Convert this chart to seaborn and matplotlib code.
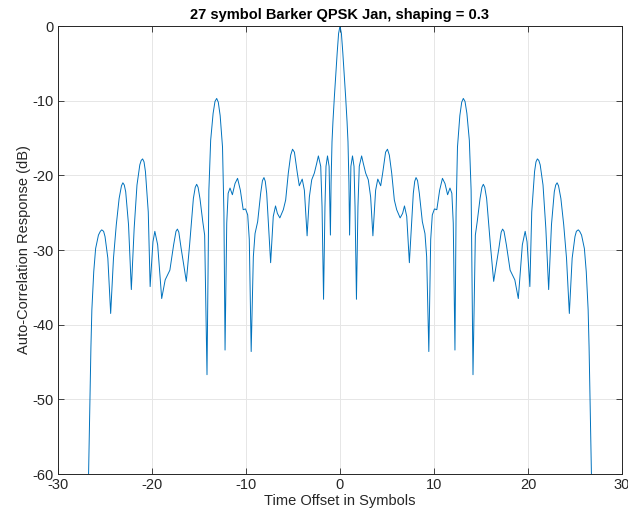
import matplotlib
matplotlib.use("Agg")
import matplotlib.pyplot as plt
import seaborn as sns
import pandas as pd

# Auto-correlation magnitude (dB) versus lag, in symbols
offset_symbols = [
    -26.9, -26.75, -26.6, -26.5, -26.4, -26.2, -26.0, -25.7, -25.5, -25.35, -25.15, -25.0,
    -24.7, -24.4, -24.1, -23.8, -23.5, -23.25, -23.1, -22.95, -22.8, -22.5, -22.2, -21.9,
    -21.6, -21.3, -21.15, -21.0, -20.85, -20.7, -20.4, -20.2, -19.9, -19.7, -19.4, -18.97,
    -18.6, -18.1, -17.7, -17.45, -17.3, -17.15, -16.9, -16.35, -16.0, -15.6, -15.4, -15.25, -15.1, -14.9,
    -14.6, -14.4, -14.15, -13.95, -13.76, -13.5, -13.3, -13.12, -12.95, -12.75,
    -12.5, -12.35, -12.23, -12.05, -11.9, -11.7, -11.45, -11.17, -10.9, -10.6,
    -10.3, -10.05, -9.82, -9.65, -9.45, -9.22, -9.04, -8.76, -8.44, -8.25, -8.09, -7.95,
    -7.8, -7.38, -7.1, -6.86, -6.66, -6.4, -6.03, -5.78, -5.5, -5.25,
    -5.05, -4.85, -4.54, -4.33, -4.02, -3.79, -3.5, -3.26, -3.01, -2.73,
    -2.48, -2.3, -2.05, -1.91, -1.75, -1.6, -1.49, -1.33, -1.16, -1.02,
    -0.95, -0.85, -0.75, -0.6, -0.45, -0.3, -0.15, 0.0,
    0.15, 0.3, 0.45, 0.6, 0.75, 0.85, 0.95,
    1.02, 1.16, 1.33, 1.49, 1.6, 1.75, 1.91, 2.05, 2.3, 2.48,
    2.73, 3.01, 3.26, 3.5, 3.79, 4.02, 4.33, 4.54, 4.85, 5.05,
    5.25, 5.5, 5.78, 6.03, 6.4, 6.66, 6.86, 7.1, 7.38, 7.8,
    7.95, 8.09, 8.25, 8.44, 8.76, 9.04, 9.22, 9.45, 9.65, 9.82, 10.05, 10.3,
    10.6, 10.9, 11.17, 11.45, 11.7, 11.9, 12.05, 12.23, 12.35, 12.5,
    12.75, 12.95, 13.12, 13.3, 13.5, 13.76, 13.95, 14.15, 14.4, 14.6,
    14.9, 15.1, 15.25, 15.4, 15.6, 16.0, 16.35, 16.9, 17.15, 17.3, 17.45, 17.7, 18.1, 18.6,
    18.97, 19.4, 19.7, 19.9, 20.2, 20.4, 20.7, 20.85, 21.0, 21.15, 21.3, 21.6,
    21.9, 22.2, 22.5, 22.8, 22.95, 23.1, 23.25, 23.5, 23.8, 24.1, 24.4, 24.7,
    25.0, 25.15, 25.35, 25.5, 25.7, 26.0, 26.2, 26.4, 26.5, 26.6, 26.75, 26.9,
]
response_db = [
    -75.0, -60.0, -50.0, -43.0, -38.0, -32.9, -29.8, -28.0, -27.5, -27.3, -27.5, -28.2,
    -31.1, -38.5, -31.1, -26.6, -23.1, -21.4, -21.0, -21.3, -22.2, -26.6, -35.3, -27.1,
    -21.3, -18.6, -18.0, -17.8, -18.2, -19.5, -24.9, -34.9, -28.9, -27.5, -29.3, -36.5,
    -34.0, -32.7, -29.3, -27.5, -27.2, -27.6, -29.8, -34.2, -29.3, -23.1, -21.6, -21.2, -21.6, -23.1,
    -26.2, -28.0, -46.7, -22.0, -15.3, -11.7, -10.1, -9.7, -10.2, -12.0,
    -16.2, -25.0, -43.4, -26.4, -22.4, -21.7, -22.6, -21.1, -20.4, -22.0,
    -24.6, -24.5, -25.3, -28.6, -43.6, -30.9, -27.8, -26.2, -22.4, -20.7, -20.3, -20.8,
    -22.4, -31.7, -25.5, -24.1, -25.1, -25.7, -24.6, -23.3, -19.7, -17.3,
    -16.5, -16.9, -19.7, -21.4, -20.5, -22.0, -28.1, -22.9, -20.6, -19.7,
    -18.4, -17.4, -18.8, -24.2, -36.6, -24.2, -18.8, -17.4, -18.8, -28.0,
    -21.0, -15.5, -12.8, -9.5, -6.5, -3.6, -1.0, 0.0,
    -1.0, -3.6, -6.5, -9.5, -12.8, -15.5, -21.0,
    -28.0, -18.8, -17.4, -18.8, -24.2, -36.6, -24.2, -18.8, -17.4, -18.4,
    -19.7, -20.6, -22.9, -28.1, -22.0, -20.5, -21.4, -19.7, -16.9, -16.5,
    -17.3, -19.7, -23.3, -24.6, -25.7, -25.1, -24.1, -25.5, -31.7, -22.4,
    -20.8, -20.3, -20.7, -22.4, -26.2, -27.8, -30.9, -43.6, -28.6, -25.3, -24.5, -24.6,
    -22.0, -20.4, -21.1, -22.6, -21.7, -22.4, -26.4, -43.4, -25.0, -16.2,
    -12.0, -10.2, -9.7, -10.1, -11.7, -15.3, -22.0, -46.7, -28.0, -26.2,
    -23.1, -21.6, -21.2, -21.6, -23.1, -29.3, -34.2, -29.8, -27.6, -27.2, -27.5, -29.3, -32.7, -34.0,
    -36.5, -29.3, -27.5, -28.9, -34.9, -24.9, -19.5, -18.2, -17.8, -18.0, -18.6, -21.3,
    -27.1, -35.3, -26.6, -22.2, -21.3, -21.0, -21.4, -23.1, -26.6, -31.1, -38.5, -31.1,
    -28.2, -27.5, -27.3, -27.5, -28.0, -29.8, -32.9, -38.0, -43.0, -50.0, -60.0, -75.0,
]

x_ticks = [-30, -20, -10, 0, 10, 20, 30]
y_ticks = [-60, -50, -40, -30, -20, -10, 0]

sns.set_style("whitegrid")
plt.rcParams["font.family"] = ["Liberation Sans", "DejaVu Sans"]
plt.rcParams["axes.unicode_minus"] = False

df = pd.DataFrame({"offset": offset_symbols, "db": response_db})

fig = plt.figure(figsize=(6.28, 5.11), dpi=100)
ax = fig.add_axes([0.0924, 0.0724, 0.8980, 0.8767])

sns.lineplot(data=df, x="offset", y="db", ax=ax, estimator=None, sort=False,
             color="#0072BD", linewidth=0.7)

ax.set_xlim(-30, 30)
ax.set_ylim(-60, 0)
ax.set_xticks(x_ticks)
ax.set_yticks(y_ticks)

ax.grid(True, color="#e6e6e6", linewidth=0.7)
for spine in ax.spines.values():
    spine.set_visible(True)
    spine.set_color("#262626")
    spine.set_linewidth(0.7)

ax.tick_params(axis="both", which="both", direction="in", length=4, width=0.6,
               color="#262626", labelsize=10.5, labelcolor="#262626",
               top=True, right=True, bottom=True, left=True)
ax.tick_params(axis="x", pad=3)
ax.tick_params(axis="y", pad=3)

ax.set_xlabel("Time Offset in Symbols", fontsize=10.5, color="#262626", labelpad=1)
ax.set_ylabel("Auto-Correlation Response (dB)", fontsize=10.5, color="#262626", labelpad=1)
ax.set_title("27 symbol Barker QPSK Jan, shaping = 0.3", fontsize=10.5,
             fontweight="bold", color="black", pad=5)

fig.savefig("out.png", dpi=100, facecolor="white")
